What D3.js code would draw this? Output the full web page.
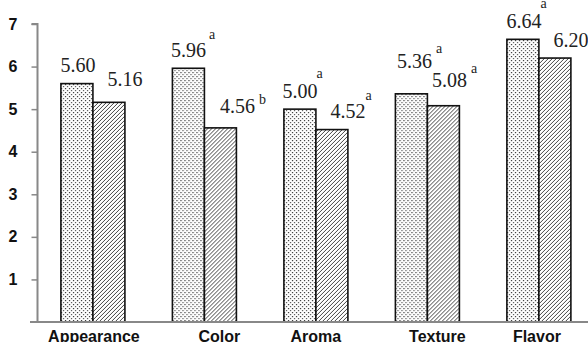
<!DOCTYPE html>
<html><head><meta charset="utf-8">
<script src="https://cdn.jsdelivr.net/npm/d3@7"></script>
<style>body{margin:0;background:#fff}svg{display:block}</style>
</head><body>
<svg id="c" width="588" height="342"></svg>
<script>
const categories = ["Appearance", "Color", "Aroma", "Texture", "Flavor"];
const seriesA = [5.60, 5.96, 5.00, 5.36, 6.64];
const seriesB = [5.16, 4.56, 4.52, 5.08, 6.20];
const supA = ["", "a", "a", "a", "a"];
const supB = ["", "b", "a", "a", ""];
const yTicks = [1, 2, 3, 4, 5, 6, 7];
// label placement tweaks (px): [dx, gap above bar, sup dx, sup rise]
const labelTweakA = [[1,12,0,0],[0,11,3,18],[0,11,-1,20],[3,26,4,15],[1,11,-1,20]];
const labelTweakB = [[16,16,0,0],[17,15,4,9],[16,12,0,18],[6,19,4,14],[16,11,0,0]];
const catLabelDx = [1, 15, 0, 10, -2];

const svg = d3.select("#c");
const defs = svg.append("defs");
const dots = defs.append("pattern").attr("id","dots").attr("patternUnits","userSpaceOnUse")
  .attr("width",4).attr("height",4);
dots.append("rect").attr("width",4).attr("height",4).attr("fill","#fff");
dots.append("rect").attr("x",0).attr("y",0).attr("width",1.2).attr("height",1.2).attr("fill","#333");
dots.append("rect").attr("x",2).attr("y",2).attr("width",1.2).attr("height",1.2).attr("fill","#555");
const hatch = defs.append("pattern").attr("id","hatch").attr("patternUnits","userSpaceOnUse")
  .attr("width",4).attr("height",4);
hatch.append("rect").attr("width",4).attr("height",4).attr("fill","#fff");
hatch.append("path").attr("d","M-1,1 L1,-1 M0,4 L4,0 M3,5 L5,3").attr("stroke","#444").attr("stroke-width",1);

const y = d3.scaleLinear().domain([0,7]).range([322,24]);
const x0 = d3.scaleBand().domain(categories).range([37.5,594.3]).paddingInner(0.426).paddingOuter(0.21);
const x1 = d3.scaleBand().domain(["A","B"]).range([0,x0.bandwidth()]);

// axes
const yAxis = svg.append("g").attr("transform","translate(37.5,0)")
  .call(d3.axisLeft(y).tickValues(yTicks).tickSize(6).tickFormat(d3.format("d")));
yAxis.select(".domain").attr("stroke","#888").attr("stroke-width",2).attr("d","M-6,24H0V322");
yAxis.selectAll(".tick line").attr("stroke","#888").attr("stroke-width",1.5);
yAxis.selectAll(".tick text").attr("x",-20).attr("font-family","Liberation Sans, Arial, sans-serif")
  .attr("font-weight","bold").attr("font-size",16).attr("fill","#111");

const groups = svg.append("g").selectAll("g").data(categories).join("g")
  .attr("transform",d=>`translate(${x0(d)},0)`);

const series = [
  {key:"A", vals:seriesA, sup:supA, fill:"url(#dots)", tw:labelTweakA},
  {key:"B", vals:seriesB, sup:supB, fill:"url(#hatch)", tw:labelTweakB}
];
series.forEach(s=>{
  groups.append("rect")
    .attr("x",x1(s.key)).attr("width",x1.bandwidth())
    .attr("y",(d,i)=>y(s.vals[i])).attr("height",(d,i)=>y(0)-y(s.vals[i]))
    .attr("fill",s.fill).attr("stroke","#111").attr("stroke-width",1.6);
});

const xAxisG = svg.append("g").attr("transform","translate(0,322)");
xAxisG.append("line").attr("x1",30).attr("x2",588).attr("stroke","#888").attr("stroke-width",2);
xAxisG.selectAll("text").data(categories).join("text")
  .attr("x",(d,i)=>x0(d)+x0.bandwidth()/2+catLabelDx[i]).attr("y",19.5).attr("text-anchor","middle")
  .attr("font-family","Liberation Sans, Arial, sans-serif").attr("font-weight","bold")
  .attr("font-size",16).attr("fill","#111").text(d=>d);

// value labels
series.forEach(s=>{
  categories.forEach((c,i)=>{
    const t = s.tw[i];
    const cx = x0(c)+x1(s.key)+x1.bandwidth()/2+t[0];
    const by = y(s.vals[i])-t[1];
    const txt = svg.append("text").attr("x",cx).attr("y",by).attr("text-anchor","middle")
      .attr("font-family","Liberation Serif, Times New Roman, serif").attr("font-size",20)
      .attr("fill","#222").text(s.vals[i].toFixed(2));
    if (s.sup[i]) {
      const w = txt.node().getComputedTextLength();
      svg.append("text").attr("x",cx+w/2+t[2]).attr("y",by-t[3])
        .attr("font-family","Liberation Serif, Times New Roman, serif").attr("font-size",14)
        .attr("fill","#222").text(s.sup[i]);
    }
  });
});
</script>
</body></html>
